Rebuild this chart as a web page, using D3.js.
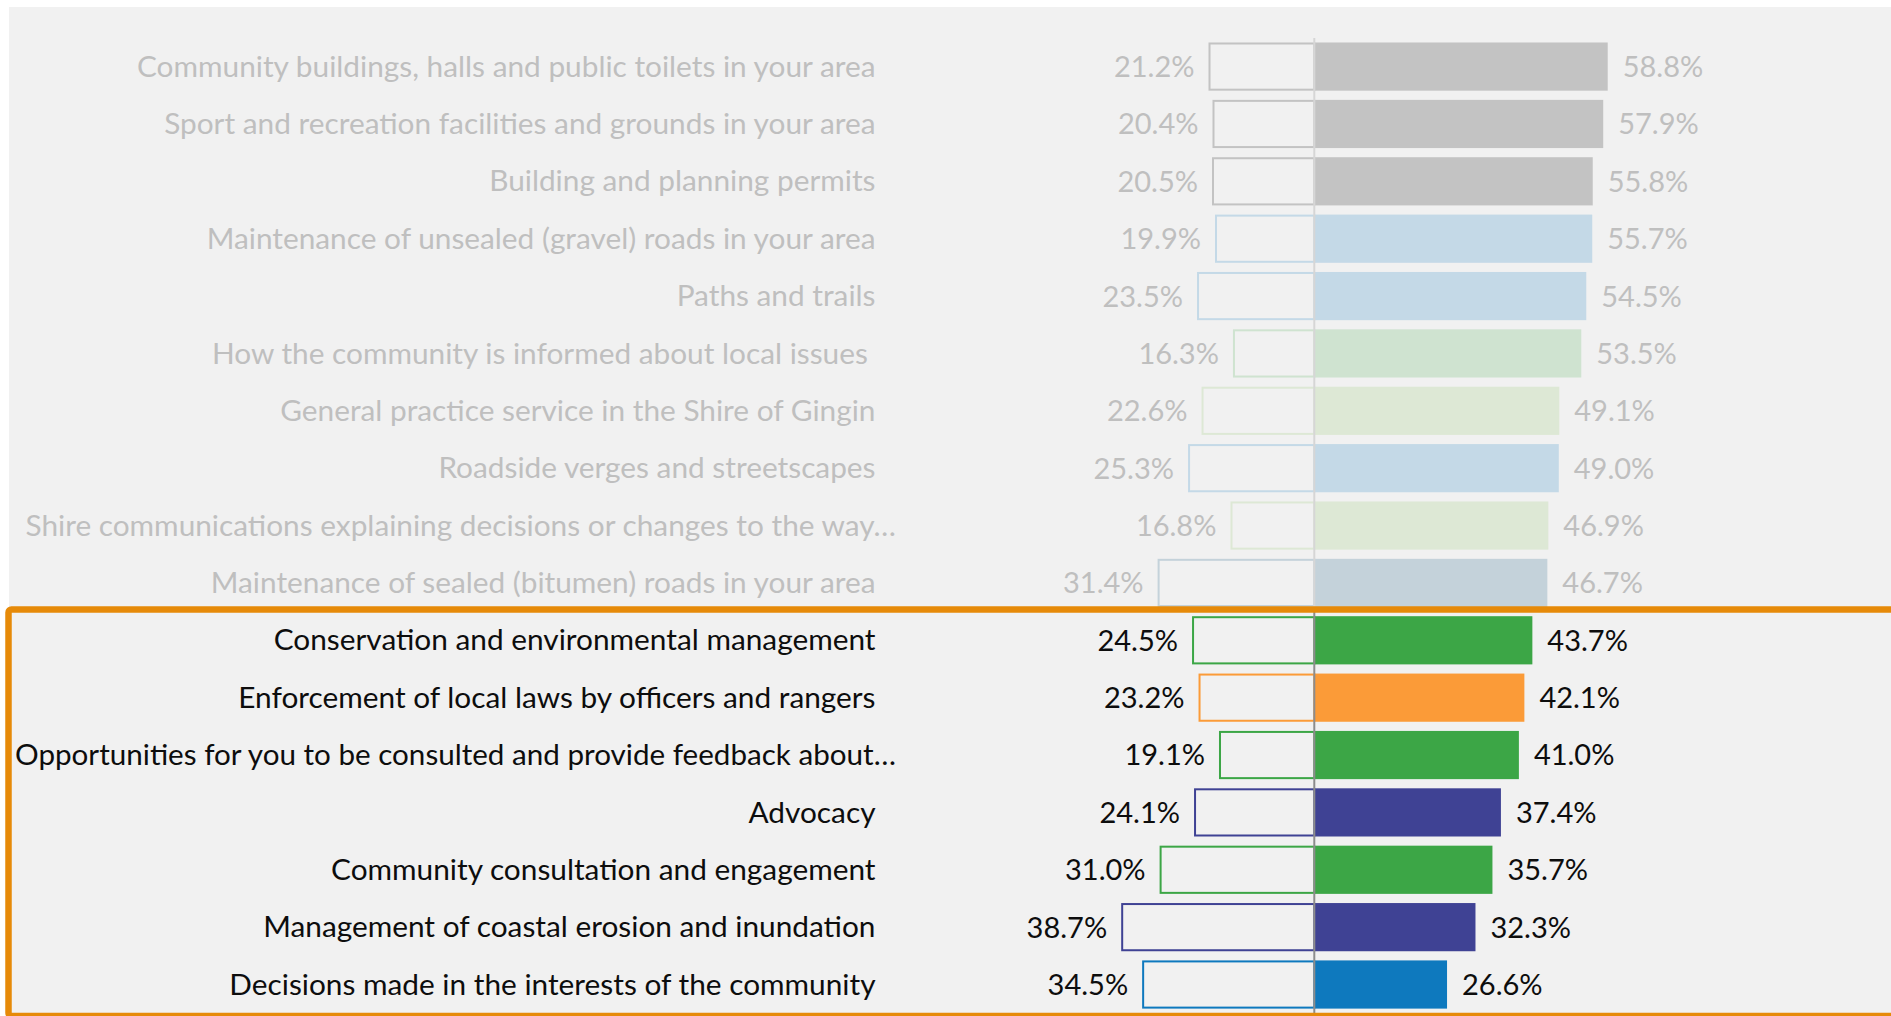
<!DOCTYPE html>
<html>
<head>
<meta charset="utf-8">
<script src="https://cdn.jsdelivr.net/npm/d3@7/dist/d3.min.js"></script>
<style>
  html, body { margin: 0; padding: 0; background: #ffffff; }
  svg { display: block; }
  text { font-family: Lato, "Open Sans", sans-serif; white-space: pre; }
</style>
</head>
<body>
<svg id="chart" width="1891" height="1016"></svg>
<script>
// Service areas, ordered by share of satisfied respondents
const categories = [
  "Community buildings, halls and public toilets in your area",
  "Sport and recreation facilities and grounds in your area",
  "Building and planning permits",
  "Maintenance of unsealed (gravel) roads in your area",
  "Paths and trails",
  "How the community is informed about local issues ",
  "General practice service in the Shire of Gingin",
  "Roadside verges and streetscapes",
  "Shire communications explaining decisions or changes to the way\u2026",
  "Maintenance of sealed (bitumen) roads in your area",
  "Conservation and environmental management",
  "Enforcement of local laws by officers and rangers",
  "Opportunities for you to be consulted and provide feedback about\u2026",
  "Advocacy",
  "Community consultation and engagement",
  "Management of coastal erosion and inundation",
  "Decisions made in the interests of the community"
];

// Dissatisfied share (drawn to the left of the axis)
const dissatisfied = [21.2, 20.4, 20.5, 19.9, 23.5, 16.3, 22.6, 25.3, 16.8, 31.4,
                      24.5, 23.2, 19.1, 24.1, 31.0, 38.7, 34.5];

// Satisfied share (drawn to the right of the axis)
const satisfied = [58.8, 57.9, 55.8, 55.7, 54.5, 53.5, 49.1, 49.0, 46.9, 46.7,
                   43.7, 42.1, 41.0, 37.4, 35.7, 32.3, 26.6];

// Whether the row belongs to the highlighted (framed) group
const highlighted = [false, false, false, false, false, false, false, false, false, false,
                     true, true, true, true, true, true, true];

// Row colours (muted for rows outside the highlighted group)
const barColors = [
  "#c3c3c3", "#c3c3c3", "#c3c3c3",
  "#c4d9e7", "#c4d9e7",
  "#cfe3d0", "#dde8d5",
  "#c4d9e7", "#dde8d5",
  "#c4d2da",
  "#3ca646", "#fb9b38", "#3ca646", "#3f4294", "#3ca646", "#3f4294", "#0e79be"
];

const rows = categories.map((c, i) => ({
  name: c,
  left: dissatisfied[i],
  right: satisfied[i],
  color: barColors[i],
  focus: highlighted[i]
}));

const W = 1891, H = 1016;
const svg = d3.select("#chart");

const axisX = 1314.3;
const pxPerPct = 4.99;

const xRight = d3.scaleLinear().domain([0, 100]).range([axisX, axisX + 100 * pxPerPct]);
const xLeft = d3.scaleLinear().domain([0, 100]).range([axisX, axisX - 100 * pxPerPct]);

const y = d3.scaleBand()
  .domain(categories)
  .range([37.9, 1013.2])
  .paddingInner(0.16)
  .paddingOuter(0.08);

const fmt = v => d3.format(".1f")(v) + "%";
const catFontSize = 29.8;
const valFontSize = 29;
const mutedText = "#bfbfbf";
const labelRight = 875.5;
const labelMinX = 15;

// Panel background
svg.append("rect")
  .attr("x", 9).attr("y", 7)
  .attr("width", W).attr("height", H)
  .attr("fill", "#f1f1f1");

// Width of a trailing ellipsis, so truncated labels keep the common right edge
const probe = svg.append("text").attr("font-size", catFontSize).text("\u2026");
const ellipsisW = probe.node().getComputedTextLength();
probe.remove();

const g = svg.append("g");

// Dissatisfied bars: outlined boxes
g.selectAll("rect.left")
  .data(rows)
  .join("rect")
  .attr("class", "left")
  .attr("x", d => xLeft(d.left) + 1)
  .attr("y", d => y(d.name) + 1)
  .attr("width", d => axisX - xLeft(d.left) - 1)
  .attr("height", y.bandwidth() - 2)
  .attr("fill", "none")
  .attr("stroke", d => d.color)
  .attr("stroke-width", 2);

// Satisfied bars: solid
g.selectAll("rect.right")
  .data(rows)
  .join("rect")
  .attr("class", "right")
  .attr("x", axisX)
  .attr("y", d => y(d.name))
  .attr("width", d => xRight(d.right) - axisX)
  .attr("height", y.bandwidth())
  .attr("fill", d => d.color);

// Central axis, muted above the highlighted group
const firstFocus = rows.find(d => d.focus).name;
const splitY = y(firstFocus) - (y.step() - y.bandwidth()) / 2;
svg.append("line")
  .attr("x1", axisX).attr("x2", axisX)
  .attr("y1", 38).attr("y2", splitY)
  .attr("stroke", "#d6d6d6").attr("stroke-width", 2);
svg.append("line")
  .attr("x1", axisX).attr("x2", axisX)
  .attr("y1", splitY).attr("y2", H)
  .attr("stroke", "#8c8c8c").attr("stroke-width", 2);

// Category labels; truncated ones let the ellipsis hang past the common edge
const labelEnd = d => labelRight + (d.name.endsWith("\u2026") ? ellipsisW - 2 : 0);
g.selectAll("text.cat")
  .data(rows)
  .join("text")
  .attr("class", "cat")
  .attr("x", labelEnd)
  .attr("y", d => y(d.name) + y.bandwidth() / 2)
  .attr("dy", "0.34em")
  .attr("text-anchor", "end")
  .attr("font-size", catFontSize)
  .attr("fill", d => d.focus ? "#0d0d0d" : mutedText)
  .text(d => d.name)
  .each(function (d) {
    // keep very long labels clear of the panel's left edge
    const room = labelEnd(d) - labelMinX;
    if (this.getComputedTextLength() > room) {
      d3.select(this).attr("textLength", room).attr("lengthAdjust", "spacingAndGlyphs");
    }
  });

// Value labels, left side
g.selectAll("text.lv")
  .data(rows)
  .join("text")
  .attr("class", "lv")
  .attr("x", d => xLeft(d.left) - 14)
  .attr("y", d => y(d.name) + y.bandwidth() / 2)
  .attr("dy", "0.36em")
  .attr("text-anchor", "end")
  .attr("font-size", valFontSize)
  .attr("fill", d => d.focus ? "#0d0d0d" : mutedText)
  .text(d => fmt(d.left));

// Value labels, right side
g.selectAll("text.rv")
  .data(rows)
  .join("text")
  .attr("class", "rv")
  .attr("x", d => xRight(d.right) + 15)
  .attr("y", d => y(d.name) + y.bandwidth() / 2)
  .attr("dy", "0.36em")
  .attr("text-anchor", "start")
  .attr("font-size", valFontSize)
  .attr("fill", d => d.focus ? "#0d0d0d" : mutedText)
  .text(d => fmt(d.right));

// Frame around the highlighted group
svg.append("rect")
  .attr("x", 8.5)
  .attr("y", 609.5)
  .attr("width", W)
  .attr("height", 406.5)
  .attr("rx", 3)
  .attr("fill", "none")
  .attr("stroke", "#e68a09")
  .attr("stroke-width", 6.5);
</script>
</body>
</html>
